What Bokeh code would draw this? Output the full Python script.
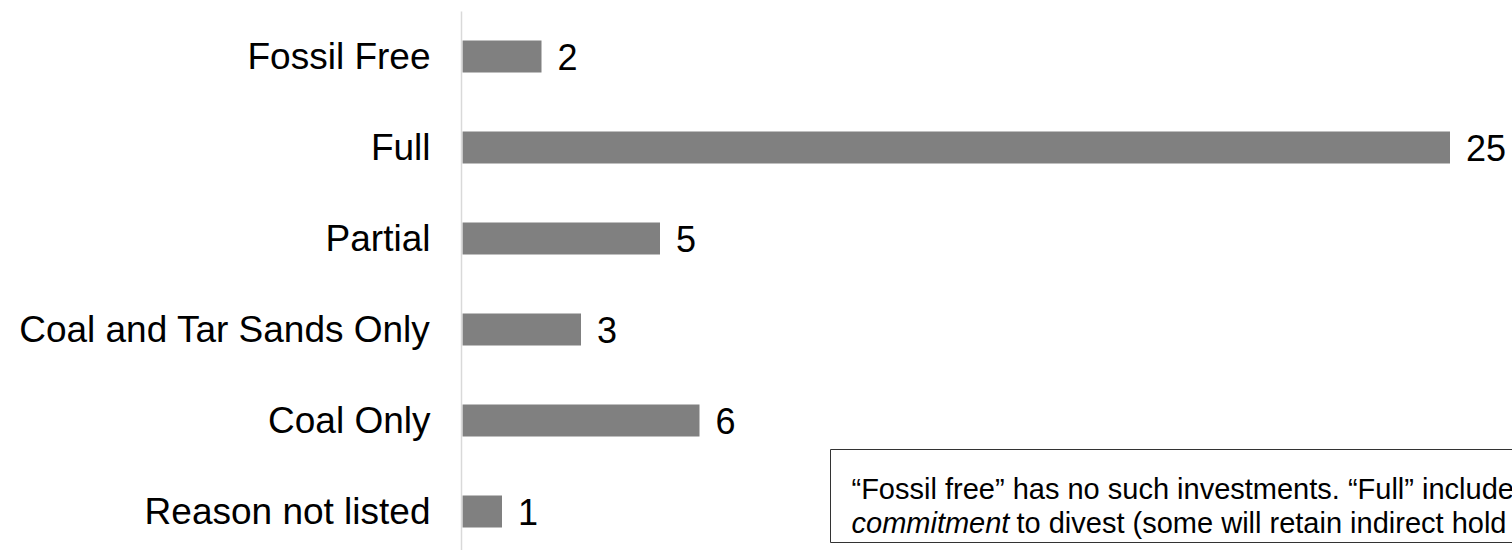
from bokeh.plotting import figure
from bokeh.models import ColumnDataSource, FixedTicker, Range1d, BoxAnnotation, Label
from bokeh.core.properties import value
from bokeh.embed import file_html
from bokeh.resources import INLINE

categories = ["Fossil Free", "Full", "Partial", "Coal and Tar Sands Only", "Coal Only", "Reason not listed"]
counts = [2, 25, 5, 3, 6, 1]
note_line1 = "\u201cFossil free\u201d has no such investments. \u201cFull\u201d include"
note_italic = "commitment"
note_line2 = "to divest (some will retain indirect hold"

FONT = "Liberation Sans"
positions = [len(categories) - 1 - i for i in range(len(categories))]

# layout constants (picture pixels)
W, H = 1512, 550
FRAME_LEFT, FRAME_TOP = 461, 11
XSCALE, YSCALE = 39.5, 91.0
x_start = -1.0 / XSCALE
x_end = x_start + (W - FRAME_LEFT) / XSCALE
y_end = positions[0] + 45.0 / YSCALE
y_start = y_end - (H - FRAME_TOP) / YSCALE

def px_x(px):
    return x_start + (px - FRAME_LEFT) / XSCALE

def px_y(py):
    return y_end - (py - FRAME_TOP) / YSCALE

src = ColumnDataSource(dict(cat=categories, val=counts, pos=positions,
                            lab=[str(c) for c in counts]))

p = figure(width=W, height=H, output_backend="svg", toolbar_location=None,
           x_range=Range1d(x_start, x_end), y_range=Range1d(y_start, y_end),
           min_border_left=FRAME_LEFT, min_border_right=0,
           min_border_top=FRAME_TOP, min_border_bottom=0)
p.outline_line_color = None
p.xgrid.visible = False
p.ygrid.visible = False
p.xaxis.visible = False
p.background_fill_color = "white"

p.hbar(y="pos", left=0, right="val", height=32 / YSCALE, source=src,
       fill_color="#808080", line_color=None)
p.text(x="val", y="pos", text="lab", source=src, x_offset=16,
       text_baseline="middle", text_align="left",
       text_font=value(FONT), text_font_size="36px", text_color="#000000")

ya = p.yaxis[0]
ya.ticker = FixedTicker(ticks=positions)
ya.major_label_overrides = {pos: c for pos, c in zip(positions, categories)}
ya.major_tick_line_color = None
ya.minor_tick_line_color = None
ya.major_tick_out = 0
ya.major_tick_in = 0
ya.major_label_standoff = 31
ya.axis_line_color = "#d9d9d9"
ya.axis_line_width = 1.5
ya.major_label_text_font = FONT
ya.major_label_text_font_size = "37px"
ya.major_label_text_color = "#000000"

box = BoxAnnotation(left=px_x(830), right=x_end + 5, top=px_y(449), bottom=px_y(542),
                    fill_color="white", fill_alpha=1.0, line_color="#333333",
                    line_width=1, line_alpha=1.0)
p.add_layout(box)

p.add_layout(Label(x=px_x(851), y=px_y(488), text=note_line1, text_font=FONT,
                   text_font_size="29px", text_color="#000000",
                   text_baseline="alphabetic"))
p.add_layout(Label(x=px_x(851), y=px_y(522), text=note_italic, text_font=FONT,
                   text_font_size="29px", text_font_style="italic",
                   text_color="#000000", text_baseline="alphabetic"))
p.add_layout(Label(x=px_x(851), y=px_y(522), x_offset=165, text=note_line2, text_font=FONT,
                   text_font_size="29px", text_color="#000000",
                   text_baseline="alphabetic"))

open("out.html", "w").write(file_html(p, INLINE))
